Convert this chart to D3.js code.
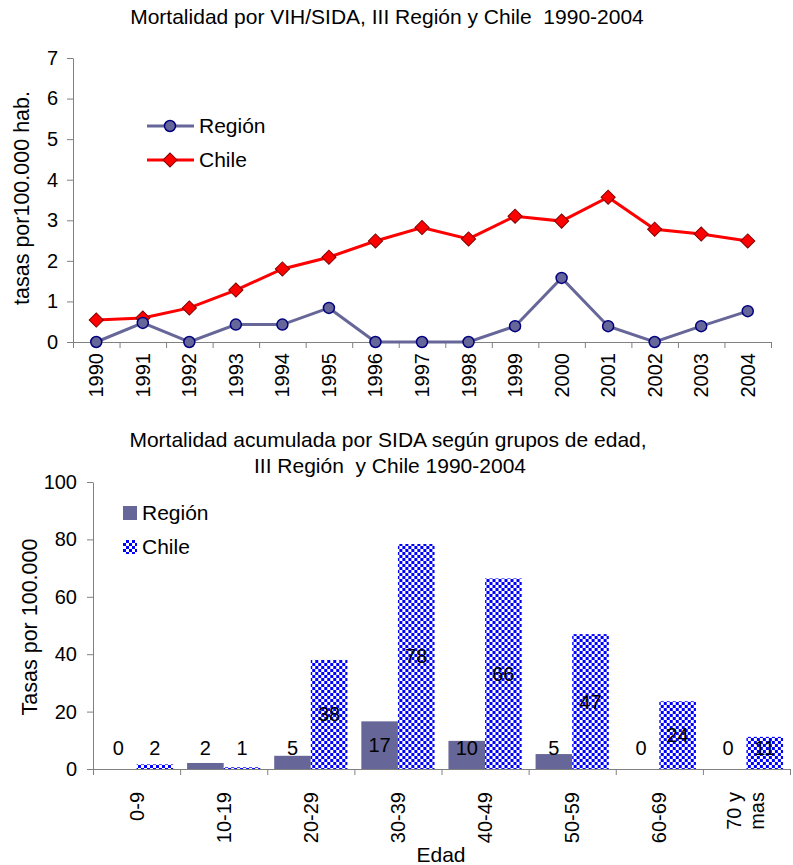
<!DOCTYPE html>
<html>
<head>
<meta charset="utf-8">
<script src="https://cdn.jsdelivr.net/npm/d3@7"></script>
<style>
  body { margin: 0; background: #fff; }
  svg { font-family: "Liberation Sans", Arial, sans-serif; display: block; }
  svg text { white-space: pre; }
  .axis path, .axis line { stroke: #808080; }
  .axis text { font-size: 20px; fill: #000; }
</style>
</head>
<body>
<div id="container"></div>
<script>
// top chart data
const years = ['1990','1991','1992','1993','1994','1995','1996','1997','1998','1999','2000','2001','2002','2003','2004'];
const regionRates = [0, 0.47, 0, 0.43, 0.43, 0.84, 0, 0, 0, 0.39, 1.58, 0.39, 0, 0.39, 0.76];
const chileRates = [0.54, 0.59, 0.84, 1.28, 1.8, 2.09, 2.49, 2.82, 2.54, 3.1, 2.98, 3.57, 2.78, 2.66, 2.49];

// bottom chart data
const ageGroups = ['0-9', '10-19', '20-29', '30-39', '40-49', '50-59', '60-69', '70 y|mas'];
const regionAcc = [0, 2.1, 4.6, 16.6, 9.8, 5.2, 0, 0];
const chileAcc = [1.6, 0.6, 38, 78.4, 66.4, 47, 23.6, 11.2];

const width = 793, height = 865;
const regionColor = '#666699', chileColor = '#ff0000';

const svg = d3.select('#container').append('svg')
    .attr('width', width)
    .attr('height', height);

svg.append('rect').attr('width', width).attr('height', height).attr('fill', '#fff');

const defs = svg.append('defs');
const pat = defs.append('pattern')
    .attr('id', 'checker')
    .attr('patternUnits', 'userSpaceOnUse')
    .attr('width', 6).attr('height', 6);
pat.append('rect').attr('width', 6).attr('height', 6).attr('fill', '#fff');
pat.append('rect').attr('width', 3).attr('height', 3).attr('fill', '#0000ff');
pat.append('rect').attr('x', 3).attr('y', 3).attr('width', 3).attr('height', 3).attr('fill', '#0000ff');

// ---------- top: line chart ----------
const x1 = d3.scaleBand(years, [73, 771]);
const xEdge = d3.scaleLinear([0, years.length], [73, 771]);
const y1 = d3.scaleLinear([0, 7], [342, 58]);

svg.append('text')
    .attr('x', 387).attr('y', 24)
    .attr('text-anchor', 'middle')
    .style('font-size', '21px')
    .text('Mortalidad por VIH/SIDA, III Región y Chile  1990-2004');

svg.append('g').attr('class', 'axis')
    .attr('transform', 'translate(73,0)')
    .call(d3.axisLeft(y1).ticks(7).tickSize(6).tickSizeOuter(0).tickPadding(9));

svg.append('g').attr('class', 'axis')
    .attr('transform', 'translate(0,342)')
    .call(d3.axisBottom(xEdge).tickValues(d3.range(years.length + 1)).tickFormat('').tickSize(6).tickSizeOuter(0));

svg.append('g').attr('class', 'axis')
    .attr('transform', 'translate(0,342)')
    .call(d3.axisBottom(x1).tickSize(0))
    .call(g => g.select('.domain').remove())
    .selectAll('text')
        .attr('text-anchor', 'end')
        .attr('transform', 'translate(0,9) rotate(-90)')
        .attr('x', -2).attr('y', 0).attr('dy', '0.35em');

svg.append('text')
    .attr('transform', 'translate(29,198) rotate(-90)')
    .attr('text-anchor', 'middle')
    .style('font-size', '21.5px')
    .text('tasas por100.000 hab.');

const cx = d => x1(d) + x1.bandwidth() / 2;
const line = d3.line();

const regionPts = years.map((d, i) => [cx(d), y1(regionRates[i])]);
const chilePts = years.map((d, i) => [cx(d), y1(chileRates[i])]);

svg.append('path').attr('d', line(regionPts))
    .attr('fill', 'none').attr('stroke', regionColor).attr('stroke-width', 3);
svg.append('path').attr('d', line(chilePts))
    .attr('fill', 'none').attr('stroke', chileColor).attr('stroke-width', 3);

const diamond = d3.symbol(d3.symbolSquare, 100);

svg.append('g').selectAll('path')
    .data(chilePts)
    .join('path')
        .attr('d', diamond)
        .attr('transform', d => `translate(${d[0]},${d[1]}) rotate(45)`)
        .attr('fill', chileColor).attr('stroke', '#800000').attr('stroke-width', 1);

svg.append('g').selectAll('circle')
    .data(regionPts)
    .join('circle')
        .attr('cx', d => d[0]).attr('cy', d => d[1]).attr('r', 5.5)
        .attr('fill', regionColor).attr('stroke', '#000080').attr('stroke-width', 1.5);

// legend top
const leg1 = svg.append('g');
[['Región', regionColor, 126], ['Chile', chileColor, 160]].forEach(([name, col, yy]) => {
    leg1.append('line').attr('x1', 147).attr('x2', 194).attr('y1', yy).attr('y2', yy)
        .attr('stroke', col).attr('stroke-width', 3);
    if (name == 'Región')
        leg1.append('circle').attr('cx', 170).attr('cy', yy).attr('r', 5.5)
            .attr('fill', regionColor).attr('stroke', '#000080').attr('stroke-width', 1.5);
    else
        leg1.append('path').attr('d', diamond).attr('transform', `translate(170,${yy}) rotate(45)`)
            .attr('fill', chileColor).attr('stroke', '#800000');
    leg1.append('text').attr('x', 199).attr('y', yy).attr('dy', '0.35em')
        .style('font-size', '21px').text(name);
});

// ---------- bottom: bar chart ----------
const x2 = d3.scaleBand(ageGroups, [93, 790]);
const xs = d3.scaleBand(['Región', 'Chile'], [0, x2.bandwidth()]).paddingOuter(0.19);
const y2 = d3.scaleLinear([0, 100], [769, 482]);

svg.append('text')
    .attr('x', 388).attr('y', 447)
    .attr('text-anchor', 'middle')
    .style('font-size', '21px')
    .text('Mortalidad acumulada por SIDA según grupos de edad,');
svg.append('text')
    .attr('x', 390).attr('y', 473)
    .attr('text-anchor', 'middle')
    .style('font-size', '21px')
    .text('III Región  y Chile 1990-2004');

svg.append('g').attr('class', 'axis')
    .attr('transform', 'translate(93,0)')
    .call(d3.axisLeft(y2).tickValues(d3.range(0, 101, 20)).tickSize(6).tickSizeOuter(0).tickPadding(10));

const xEdge2 = d3.scaleLinear([0, ageGroups.length], [93, 790]);
svg.append('g').attr('class', 'axis')
    .attr('transform', 'translate(0,769)')
    .call(d3.axisBottom(xEdge2).tickValues(d3.range(ageGroups.length + 1)).tickFormat('').tickSize(6).tickSizeOuter(0));

const xl = svg.append('g').attr('class', 'axis')
    .attr('transform', 'translate(0,769)')
    .call(d3.axisBottom(x2).tickSize(0).tickFormat(''))
    .call(g => g.select('.domain').remove());
xl.selectAll('.tick').append('text')
    .attr('text-anchor', 'end')
    .attr('transform', 'translate(0,23) rotate(-90)')
    .each(function(d) {
        const parts = d.split('|');
        const t = d3.select(this);
        parts.forEach((p, i) => {
            t.append('tspan').attr('x', 0)
                .attr('dy', i == 0 ? (parts.length > 1 ? '-0.25em' : '0.35em') : '1.15em')
                .text(p);
        });
    });

svg.append('text')
    .attr('transform', 'translate(37,627) rotate(-90)')
    .attr('text-anchor', 'middle')
    .style('font-size', '21.5px')
    .text('Tasas por 100.000');

svg.append('text')
    .attr('x', 441).attr('y', 862)
    .attr('text-anchor', 'middle')
    .style('font-size', '21px')
    .text('Edad');

const rows = ageGroups.map((g, i) => ({group: g, region: regionAcc[i], chile: chileAcc[i]}));

const bars = svg.append('g').selectAll('g')
    .data(rows)
    .join('g')
        .attr('transform', d => `translate(${x2(d.group)},0)`);

bars.append('rect')
    .attr('x', xs('Región')).attr('width', xs.bandwidth())
    .attr('y', d => y2(d.region)).attr('height', d => y2(0) - y2(d.region))
    .attr('fill', regionColor);
bars.append('rect')
    .attr('x', xs('Chile')).attr('width', xs.bandwidth())
    .attr('y', d => y2(d.chile)).attr('height', d => y2(0) - y2(d.chile))
    .attr('fill', 'url(#checker)');

const labelY = v => Math.min((y2(v) + y2(0)) / 2, y2(0) - 21);
bars.append('text')
    .attr('x', xs('Región') + xs.bandwidth() / 2)
    .attr('y', d => labelY(d.region)).attr('dy', '0.35em')
    .attr('text-anchor', 'middle').style('font-size', '20px')
    .text(d => Math.round(d.region));
bars.append('text')
    .attr('x', xs('Chile') + xs.bandwidth() / 2)
    .attr('y', d => labelY(d.chile)).attr('dy', '0.35em')
    .attr('text-anchor', 'middle').style('font-size', '20px')
    .text(d => Math.round(d.chile));

// legend bottom
const leg2 = svg.append('g');
leg2.append('rect').attr('x', 123).attr('y', 506).attr('width', 14).attr('height', 14).attr('fill', regionColor);
leg2.append('text').attr('x', 142).attr('y', 513).attr('dy', '0.35em').style('font-size', '21px').text('Región');
leg2.append('rect').attr('x', 123).attr('y', 540).attr('width', 14).attr('height', 14).attr('fill', 'url(#checker)');
leg2.append('text').attr('x', 142).attr('y', 547).attr('dy', '0.35em').style('font-size', '21px').text('Chile');
</script>
</body>
</html>
